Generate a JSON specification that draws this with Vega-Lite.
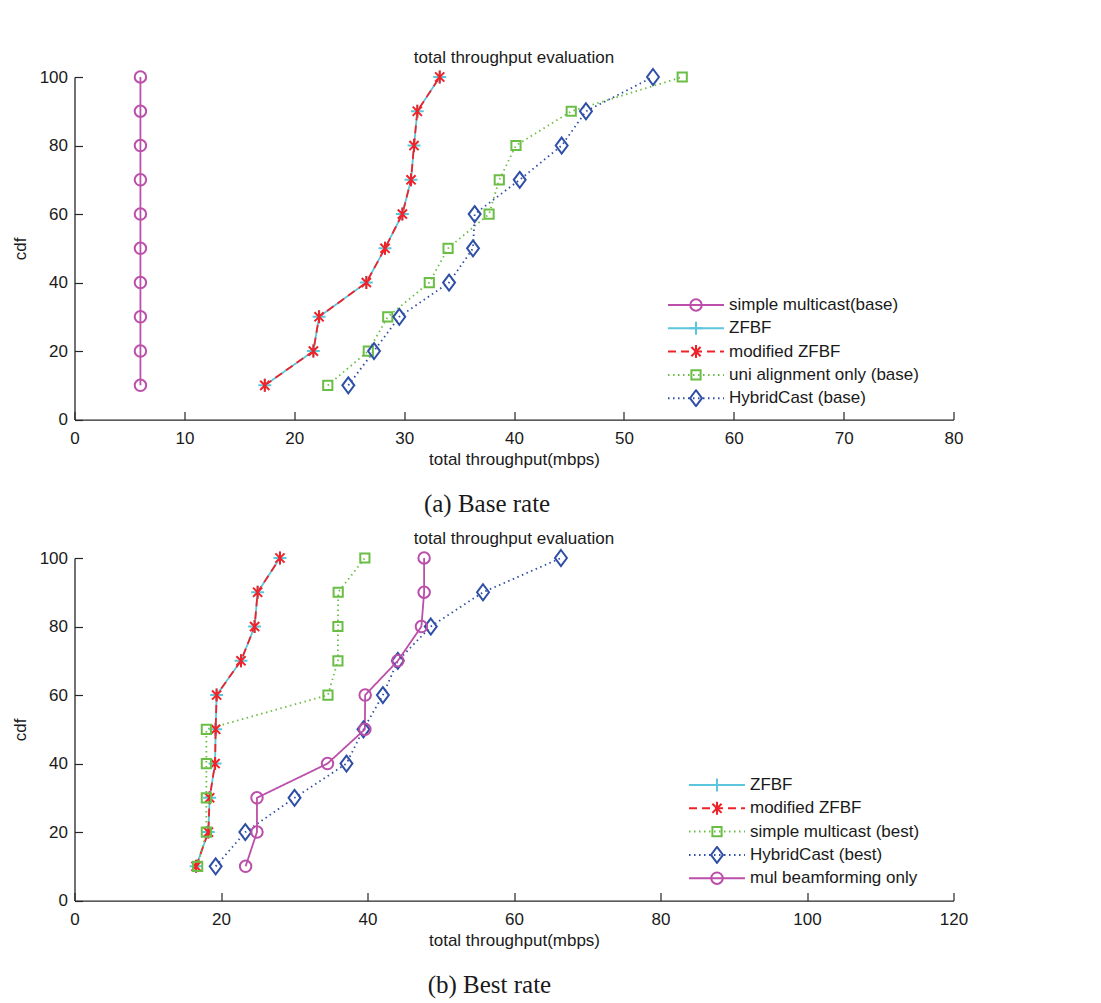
{
  "$schema": "https://vega.github.io/schema/vega-lite/v6.json",
  "padding": {"top": 49, "left": 10.5, "right": 5, "bottom": 5},
  "background": "white",
  "resolve": {"scale": {"color": "independent", "strokeDash": "independent", "shape": "independent", "stroke": "independent", "x": "independent", "y": "independent"}, "legend": {"color": "independent", "strokeDash": "independent", "shape": "independent", "stroke": "independent"}},
  "config": {
    "view": {"stroke": null},
    "font": "Liberation Sans",
    "axis": {"grid": false, "domainColor": "#262626", "domainWidth": 1.3, "tickColor": "#262626", "tickWidth": 1.2, "tickSize": -8, "labelFont": "Liberation Sans", "labelFontSize": 17, "labelColor": "#1a1a1a", "titleFont": "Liberation Sans", "titleFontSize": 17, "titleFontWeight": "normal", "titleColor": "#1a1a1a"},
    "axisX": {"labelPadding": 18.5, "titlePadding": 5, "labelFlush": false},
    "axisY": {"labelPadding": 15, "titlePadding": 10},
    "legend": {"labelFont": "Liberation Sans", "labelFontSize": 17, "labelColor": "#1a1a1a", "labelLimit": 400, "padding": 0, "rowPadding": 5.3, "clipHeight": 18, "symbolStrokeWidth": 2, "symbolSize": 132, "symbolOffset": 23, "labelOffset": 24.5},
    "title": {"font": "Liberation Sans", "fontSize": 17, "fontWeight": "normal", "color": "#1a1a1a"}
  },
  "datasets": {
    "a": [
      {"series": "simple multicast(base)", "cdf": 10, "throughput": 6.0},
      {"series": "simple multicast(base)", "cdf": 20, "throughput": 6.0},
      {"series": "simple multicast(base)", "cdf": 30, "throughput": 6.0},
      {"series": "simple multicast(base)", "cdf": 40, "throughput": 6.0},
      {"series": "simple multicast(base)", "cdf": 50, "throughput": 6.0},
      {"series": "simple multicast(base)", "cdf": 60, "throughput": 6.0},
      {"series": "simple multicast(base)", "cdf": 70, "throughput": 6.0},
      {"series": "simple multicast(base)", "cdf": 80, "throughput": 6.0},
      {"series": "simple multicast(base)", "cdf": 90, "throughput": 6.0},
      {"series": "simple multicast(base)", "cdf": 100, "throughput": 6.0},
      {"series": "ZFBF", "cdf": 10, "throughput": 17.32},
      {"series": "ZFBF", "cdf": 20, "throughput": 21.74},
      {"series": "ZFBF", "cdf": 30, "throughput": 22.26},
      {"series": "ZFBF", "cdf": 40, "throughput": 26.56},
      {"series": "ZFBF", "cdf": 50, "throughput": 28.26},
      {"series": "ZFBF", "cdf": 60, "throughput": 29.84},
      {"series": "ZFBF", "cdf": 70, "throughput": 30.63},
      {"series": "ZFBF", "cdf": 80, "throughput": 30.9},
      {"series": "ZFBF", "cdf": 90, "throughput": 31.2},
      {"series": "ZFBF", "cdf": 100, "throughput": 33.24},
      {"series": "modified ZFBF", "cdf": 10, "throughput": 17.32},
      {"series": "modified ZFBF", "cdf": 20, "throughput": 21.74},
      {"series": "modified ZFBF", "cdf": 30, "throughput": 22.26},
      {"series": "modified ZFBF", "cdf": 40, "throughput": 26.56},
      {"series": "modified ZFBF", "cdf": 50, "throughput": 28.26},
      {"series": "modified ZFBF", "cdf": 60, "throughput": 29.84},
      {"series": "modified ZFBF", "cdf": 70, "throughput": 30.63},
      {"series": "modified ZFBF", "cdf": 80, "throughput": 30.9},
      {"series": "modified ZFBF", "cdf": 90, "throughput": 31.2},
      {"series": "modified ZFBF", "cdf": 100, "throughput": 33.24},
      {"series": "uni alignment only (base)", "cdf": 10, "throughput": 23.05},
      {"series": "uni alignment only (base)", "cdf": 20, "throughput": 26.74},
      {"series": "uni alignment only (base)", "cdf": 30, "throughput": 28.51},
      {"series": "uni alignment only (base)", "cdf": 40, "throughput": 32.29},
      {"series": "uni alignment only (base)", "cdf": 50, "throughput": 34.0},
      {"series": "uni alignment only (base)", "cdf": 60, "throughput": 37.73},
      {"series": "uni alignment only (base)", "cdf": 70, "throughput": 38.66},
      {"series": "uni alignment only (base)", "cdf": 80, "throughput": 40.18},
      {"series": "uni alignment only (base)", "cdf": 90, "throughput": 45.21},
      {"series": "uni alignment only (base)", "cdf": 100, "throughput": 55.31},
      {"series": "HybridCast (base)", "cdf": 10, "throughput": 24.92},
      {"series": "HybridCast (base)", "cdf": 20, "throughput": 27.26},
      {"series": "HybridCast (base)", "cdf": 30, "throughput": 29.56},
      {"series": "HybridCast (base)", "cdf": 40, "throughput": 34.09},
      {"series": "HybridCast (base)", "cdf": 50, "throughput": 36.27},
      {"series": "HybridCast (base)", "cdf": 60, "throughput": 36.42},
      {"series": "HybridCast (base)", "cdf": 70, "throughput": 40.52},
      {"series": "HybridCast (base)", "cdf": 80, "throughput": 44.34},
      {"series": "HybridCast (base)", "cdf": 90, "throughput": 46.55},
      {"series": "HybridCast (base)", "cdf": 100, "throughput": 52.65}
    ],
    "b": [
      {"series": "ZFBF", "cdf": 10, "throughput": 16.6},
      {"series": "ZFBF", "cdf": 20, "throughput": 18.27},
      {"series": "ZFBF", "cdf": 30, "throughput": 18.45},
      {"series": "ZFBF", "cdf": 40, "throughput": 19.19},
      {"series": "ZFBF", "cdf": 50, "throughput": 19.27},
      {"series": "ZFBF", "cdf": 60, "throughput": 19.4},
      {"series": "ZFBF", "cdf": 70, "throughput": 22.73},
      {"series": "ZFBF", "cdf": 80, "throughput": 24.59},
      {"series": "ZFBF", "cdf": 90, "throughput": 25.0},
      {"series": "ZFBF", "cdf": 100, "throughput": 28.05},
      {"series": "modified ZFBF", "cdf": 10, "throughput": 16.6},
      {"series": "modified ZFBF", "cdf": 20, "throughput": 18.27},
      {"series": "modified ZFBF", "cdf": 30, "throughput": 18.45},
      {"series": "modified ZFBF", "cdf": 40, "throughput": 19.19},
      {"series": "modified ZFBF", "cdf": 50, "throughput": 19.27},
      {"series": "modified ZFBF", "cdf": 60, "throughput": 19.4},
      {"series": "modified ZFBF", "cdf": 70, "throughput": 22.73},
      {"series": "modified ZFBF", "cdf": 80, "throughput": 24.59},
      {"series": "modified ZFBF", "cdf": 90, "throughput": 25.0},
      {"series": "modified ZFBF", "cdf": 100, "throughput": 28.05},
      {"series": "simple multicast (best)", "cdf": 10, "throughput": 16.81},
      {"series": "simple multicast (best)", "cdf": 20, "throughput": 18.0},
      {"series": "simple multicast (best)", "cdf": 30, "throughput": 18.0},
      {"series": "simple multicast (best)", "cdf": 40, "throughput": 18.0},
      {"series": "simple multicast (best)", "cdf": 50, "throughput": 18.0},
      {"series": "simple multicast (best)", "cdf": 60, "throughput": 34.6},
      {"series": "simple multicast (best)", "cdf": 70, "throughput": 35.96},
      {"series": "simple multicast (best)", "cdf": 80, "throughput": 35.96},
      {"series": "simple multicast (best)", "cdf": 90, "throughput": 36.0},
      {"series": "simple multicast (best)", "cdf": 100, "throughput": 39.64},
      {"series": "HybridCast (best)", "cdf": 10, "throughput": 19.27},
      {"series": "HybridCast (best)", "cdf": 20, "throughput": 23.32},
      {"series": "HybridCast (best)", "cdf": 30, "throughput": 30.04},
      {"series": "HybridCast (best)", "cdf": 40, "throughput": 37.13},
      {"series": "HybridCast (best)", "cdf": 50, "throughput": 39.45},
      {"series": "HybridCast (best)", "cdf": 60, "throughput": 42.1},
      {"series": "HybridCast (best)", "cdf": 70, "throughput": 44.14},
      {"series": "HybridCast (best)", "cdf": 80, "throughput": 48.64},
      {"series": "HybridCast (best)", "cdf": 90, "throughput": 55.77},
      {"series": "HybridCast (best)", "cdf": 100, "throughput": 66.41},
      {"series": "mul beamforming only", "cdf": 10, "throughput": 23.36},
      {"series": "mul beamforming only", "cdf": 20, "throughput": 24.91},
      {"series": "mul beamforming only", "cdf": 30, "throughput": 24.91},
      {"series": "mul beamforming only", "cdf": 40, "throughput": 34.54},
      {"series": "mul beamforming only", "cdf": 50, "throughput": 39.64},
      {"series": "mul beamforming only", "cdf": 60, "throughput": 39.68},
      {"series": "mul beamforming only", "cdf": 70, "throughput": 44.14},
      {"series": "mul beamforming only", "cdf": 80, "throughput": 47.36},
      {"series": "mul beamforming only", "cdf": 90, "throughput": 47.73},
      {"series": "mul beamforming only", "cdf": 100, "throughput": 47.73}
    ]
  },
  "spacing": 12,
  "vconcat": [
    {
      "title": {"text": "(a) Base rate", "orient": "bottom", "font": "Liberation Serif", "fontSize": 25, "offset": 25, "anchor": "middle"},
      "vconcat": [
        {
          "title": {"text": "total throughput evaluation", "baseline": "alphabetic", "offset": -15},
          "width": 879, "height": 342.6,
          "data": {"name": "a"},
          "encoding": {
            "x": {"field": "throughput", "type": "quantitative", "scale": {"domain": [0, 80], "nice": false}, "axis": {"values": [0,10,20,30,40,50,60,70,80], "title": "total throughput(mbps)"}},
            "y": {"field": "cdf", "type": "quantitative", "scale": {"domain": [0, 100], "nice": false}, "axis": {"values": [0,20,40,60,80,100], "title": "cdf"}}
          },
          "layer": [
            {
              "mark": {"type": "line", "strokeWidth": 1.8},
              "encoding": {
                "order": {"field": "cdf", "type": "quantitative"},
                "color": {"field": "series", "type": "nominal",
                  "scale": {"domain": ["simple multicast(base)", "ZFBF", "modified ZFBF", "uni alignment only (base)", "HybridCast (base)", " "], "range": ["#bb4fa9", "#5cc6dc", "#ee2229", "#6bbe45", "#2f4fa6", "#ffffff"]},
                  "legend": {"title": null, "orient": "none", "legendX": 590, "legendY": 219, "values": ["simple multicast(base)", "ZFBF", "modified ZFBF", "uni alignment only (base)", "HybridCast (base)"], "symbolType": "M-4.87,0H4.87", "symbolFillColor": "transparent"}},
                "strokeDash": {"field": "series", "type": "nominal",
                  "scale": {"domain": ["simple multicast(base)", "ZFBF", "modified ZFBF", "uni alignment only (base)", "HybridCast (base)", " "], "range": [[1,0],[1,0],[8,5],[1.5,3.5],[1.5,3.5],[1,0]]},
                  "legend": {"title": null, "orient": "none", "legendX": 590, "legendY": 219, "values": ["simple multicast(base)", "ZFBF", "modified ZFBF", "uni alignment only (base)", "HybridCast (base)"], "symbolType": "M-4.87,0H4.87", "symbolFillColor": "transparent"}}
              }
            },
            {
              "mark": {"type": "point", "filled": false, "strokeWidth": 2, "size": 132, "opacity": 1},
              "encoding": {
                "shape": {"field": "series", "type": "nominal",
                  "scale": {"domain": ["simple multicast(base)", "ZFBF", "modified ZFBF", "uni alignment only (base)", "HybridCast (base)"], "range": ["circle", "M-1.13,0H1.13M0,-1.13V1.13", "M0,-1.13V1.13M-0.8,-0.8L0.8,0.8M-0.8,0.8L0.8,-0.8", "M-0.8,-0.8H0.8V0.8H-0.8Z", "M0,-1.39L1.04,0L0,1.39L-1.04,0Z"]},
                  "legend": {"title": null, "orient": "none", "legendX": 590, "legendY": 219, "labelOpacity": 0, "symbolFillColor": "transparent"}},
                "stroke": {"field": "series", "type": "nominal",
                  "scale": {"domain": ["simple multicast(base)", "ZFBF", "modified ZFBF", "uni alignment only (base)", "HybridCast (base)"], "range": ["#bb4fa9", "#5cc6dc", "#ee2229", "#6bbe45", "#2f4fa6"]},
                  "legend": {"title": null, "orient": "none", "legendX": 590, "legendY": 219, "labelOpacity": 0, "symbolFillColor": "transparent"}}
              }
            }
          ]
        }
      ]
    },
    {
      "title": {"text": "(b) Best rate", "orient": "bottom", "font": "Liberation Serif", "fontSize": 25, "offset": 25, "anchor": "middle"},
      "vconcat": [
        {
          "title": {"text": "total throughput evaluation", "baseline": "alphabetic", "offset": -15},
          "width": 879, "height": 342.6,
          "data": {"name": "b"},
          "encoding": {
            "x": {"field": "throughput", "type": "quantitative", "scale": {"domain": [0, 120], "nice": false}, "axis": {"values": [0,20,40,60,80,100,120], "title": "total throughput(mbps)"}},
            "y": {"field": "cdf", "type": "quantitative", "scale": {"domain": [0, 100], "nice": false}, "axis": {"values": [0,20,40,60,80,100], "title": "cdf"}}
          },
          "layer": [
            {
              "mark": {"type": "line", "strokeWidth": 1.8},
              "encoding": {
                "order": {"field": "cdf", "type": "quantitative"},
                "color": {"field": "series", "type": "nominal",
                  "scale": {"domain": ["ZFBF", "modified ZFBF", "simple multicast (best)", "HybridCast (best)", "mul beamforming only", " "], "range": ["#5cc6dc", "#ee2229", "#6bbe45", "#2f4fa6", "#bb4fa9", "#ffffff"]},
                  "legend": {"title": null, "orient": "none", "legendX": 611, "legendY": 218, "values": ["ZFBF", "modified ZFBF", "simple multicast (best)", "HybridCast (best)", "mul beamforming only"], "symbolType": "M-4.87,0H4.87", "symbolFillColor": "transparent"}},
                "strokeDash": {"field": "series", "type": "nominal",
                  "scale": {"domain": ["ZFBF", "modified ZFBF", "simple multicast (best)", "HybridCast (best)", "mul beamforming only", " "], "range": [[1,0],[8,5],[1.5,3.5],[1.5,3.5],[1,0],[1,0]]},
                  "legend": {"title": null, "orient": "none", "legendX": 611, "legendY": 218, "values": ["ZFBF", "modified ZFBF", "simple multicast (best)", "HybridCast (best)", "mul beamforming only"], "symbolType": "M-4.87,0H4.87", "symbolFillColor": "transparent"}}
              }
            },
            {
              "mark": {"type": "point", "filled": false, "strokeWidth": 2, "size": 132, "opacity": 1},
              "encoding": {
                "shape": {"field": "series", "type": "nominal",
                  "scale": {"domain": ["ZFBF", "modified ZFBF", "simple multicast (best)", "HybridCast (best)", "mul beamforming only"], "range": ["M-1.13,0H1.13M0,-1.13V1.13", "M0,-1.13V1.13M-0.8,-0.8L0.8,0.8M-0.8,0.8L0.8,-0.8", "M-0.8,-0.8H0.8V0.8H-0.8Z", "M0,-1.39L1.04,0L0,1.39L-1.04,0Z", "circle"]},
                  "legend": {"title": null, "orient": "none", "legendX": 611, "legendY": 218, "labelOpacity": 0, "symbolFillColor": "transparent"}},
                "stroke": {"field": "series", "type": "nominal",
                  "scale": {"domain": ["ZFBF", "modified ZFBF", "simple multicast (best)", "HybridCast (best)", "mul beamforming only"], "range": ["#5cc6dc", "#ee2229", "#6bbe45", "#2f4fa6", "#bb4fa9"]},
                  "legend": {"title": null, "orient": "none", "legendX": 611, "legendY": 218, "labelOpacity": 0, "symbolFillColor": "transparent"}}
              }
            }
          ]
        }
      ]
    }
  ]
}
